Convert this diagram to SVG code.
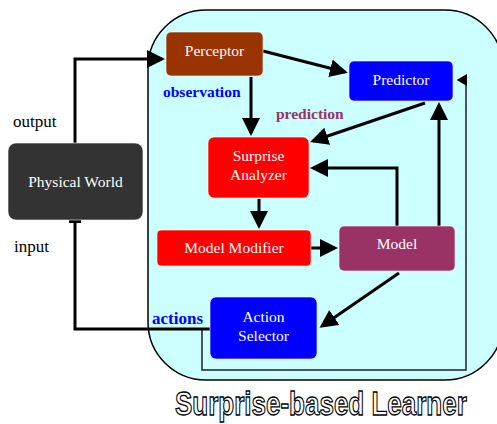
<svg xmlns="http://www.w3.org/2000/svg" width="497" height="424" viewBox="0 0 497 424">
<style>
.box{stroke:#ffffff;stroke-opacity:0.6;stroke-width:1}
.lbl{font-family:"Liberation Serif","Times New Roman",serif;font-size:15.5px;fill:#ffffff;text-anchor:middle}
.side{font-family:"Liberation Serif","Times New Roman",serif;font-size:17px;fill:#000000}
.tag{font-family:"Liberation Serif","Times New Roman",serif;font-size:15.5px;font-weight:bold}
.c{fill:none;stroke:#000;stroke-width:3}
.t{fill:none;stroke:#222;stroke-width:1.5}
</style>
<defs>
<marker id="ah" markerWidth="6" markerHeight="6" refX="5" refY="3" orient="auto" markerUnits="strokeWidth">
<path d="M0,0 L6,3 L0,6 z" fill="#000"/>
</marker>
<marker id="ahs" markerWidth="7" markerHeight="8" refX="6" refY="4" orient="auto" markerUnits="strokeWidth">
<path d="M0,0 L7,4 L0,8 z" fill="#000"/>
</marker>
</defs>
<rect x="0" y="0" width="497" height="424" fill="#ffffff"/>
<g id="container">
<rect x="148" y="10" width="355" height="370" rx="58" ry="58" fill="#ccffff" stroke="#000" stroke-width="1.5"/>
</g>
<g id="connectors">
<polyline class="c" points="75,143 75,59 162,59" marker-end="url(#ah)"/>
<line class="c" x1="263" y1="51" x2="345" y2="72" marker-end="url(#ah)"/>
<line class="c" x1="251" y1="77" x2="251" y2="133" marker-end="url(#ah)"/>
<line class="c" x1="425" y1="103" x2="313" y2="141" marker-end="url(#ah)"/>
<polyline class="c" points="397,226 397,168 313,168" marker-end="url(#ah)"/>
<line class="c" x1="439" y1="226" x2="439" y2="105" marker-end="url(#ah)"/>
<polyline class="t" points="202,329 202,370 466,370 466,80 458,80" marker-end="url(#ahs)"/>
<line class="c" x1="259" y1="199" x2="259" y2="226" marker-end="url(#ah)"/>
<line class="c" x1="311" y1="248" x2="335" y2="248" marker-end="url(#ah)"/>
<line class="c" x1="399" y1="273" x2="322" y2="326" marker-end="url(#ah)"/>
<polyline class="c" points="210,329 75,329 75,221"/>
<line x1="69" y1="221.5" x2="81" y2="221.5" stroke="#000" stroke-width="3"/>
</g>
<g id="physical-world">
<rect class="box" x="8" y="143" width="135" height="77" rx="8" fill="#333333"/>
<text class="lbl" x="75.5" y="187">Physical World</text>
</g>
<g id="perceptor">
<rect class="box" x="166" y="32" width="97" height="44" rx="5" fill="#993300"/>
<text class="lbl" x="214.5" y="56">Perceptor</text>
</g>
<g id="predictor">
<rect class="box" x="349" y="61" width="104" height="40" rx="5" fill="#0000ff"/>
<text class="lbl" x="401" y="85">Predictor</text>
</g>
<g id="surprise-analyzer">
<rect class="box" x="208" y="137" width="101" height="61" rx="6" fill="#ff0000"/>
<text class="lbl" x="258.5" y="161">Surprise</text>
<text class="lbl" x="258.5" y="180">Analyzer</text>
</g>
<g id="model-modifier">
<rect class="box" x="157" y="230" width="154" height="36" rx="4" fill="#ff0000"/>
<text class="lbl" x="234" y="253">Model Modifier</text>
</g>
<g id="model">
<rect class="box" x="339" y="226" width="116" height="45" rx="5" fill="#993366"/>
<text class="lbl" x="397" y="249">Model</text>
</g>
<g id="action-selector">
<rect class="box" x="210" y="297" width="107" height="62" rx="6" fill="#0000ff"/>
<text class="lbl" x="263.5" y="322">Action</text>
<text class="lbl" x="263.5" y="341">Selector</text>
</g>
<g id="labels">
<text class="side" x="13" y="127">output</text>
<text class="side" x="14" y="252">input</text>
<text class="tag" x="163" y="97" fill="#0000ff">observation</text>
<text class="tag" x="276" y="119" fill="#993366">prediction</text>
<text class="tag" x="152" y="324" fill="#0000ff" style="font-size:17px">actions</text>
<text transform="translate(175,415) scale(0.765,1)" x="0" y="0" style="font-family:'Liberation Sans','Arial',sans-serif;font-weight:bold;font-size:34px;fill:#ffffff;stroke:#000;stroke-width:1.3">Surprise-based Learner</text>
</g>
</svg>
